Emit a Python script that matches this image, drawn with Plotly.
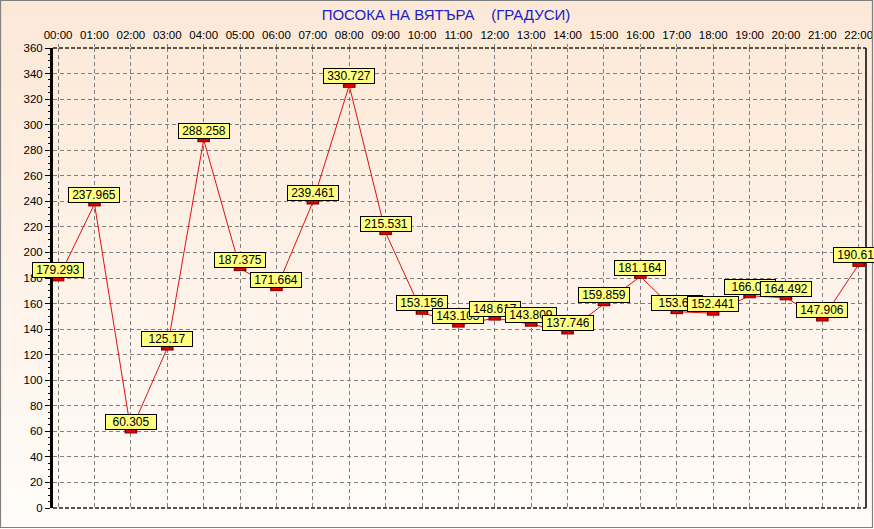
import plotly.graph_objects as go

hours = ["00:00", "01:00", "02:00", "03:00", "04:00", "05:00", "06:00", "07:00",
         "08:00", "09:00", "10:00", "11:00", "12:00", "13:00", "14:00", "15:00",
         "16:00", "17:00", "18:00", "19:00", "20:00", "21:00", "22:00"]
direction = [179.293, 237.965, 60.305, 125.17, 288.258, 187.375, 171.664, 239.461,
             330.727, 215.531, 153.156, 143.103, 148.617, 143.809, 137.746, 159.859,
             181.164, 153.66, 152.441, 166.09, 164.492, 147.906, 190.617]
y_ticks = list(range(0, 361, 20))
title_text = "ПОСОКА НА ВЯТЪРА\u00a0\u00a0\u00a0\u00a0(ГРАДУСИ)"

W, H = 874, 529
L, R, T, B = 53, 8, 48, 21
pw, ph = W - L - R, H - T - B

def px_x(x):
    return (x - L) / pw

def px_y(y):
    return (H - B - y) / ph

fig = go.Figure()

# line
fig.add_trace(go.Scatter(x=hours, y=direction, mode="lines",
                         line=dict(color="#E01010", width=1), hoverinfo="skip"))
# marker rectangles (border + fill)
fig.add_trace(go.Scatter(x=hours, y=direction, mode="markers",
                         marker=dict(symbol="line-ew", size=9,
                                     line=dict(color="#800000", width=5))))
fig.add_trace(go.Scatter(x=hours, y=direction, mode="markers",
                         marker=dict(symbol="line-ew", size=7,
                                     line=dict(color="#E00000", width=3))))

shapes = []
# background gradient
n = 40
top = (252, 232, 214)
bot = (255, 252, 249)
for i in range(n):
    f = i / (n - 1)
    c = tuple(round(top[k] + (bot[k] - top[k]) * f) for k in range(3))
    y0 = i * H / n
    y1 = (i + 1) * H / n + 1
    shapes.append(dict(type="rect", xref="paper", yref="paper",
                       x0=px_x(0), x1=px_x(W), y0=px_y(y1), y1=px_y(y0),
                       fillcolor="rgb(%d,%d,%d)" % c, line=dict(width=0),
                       layer="below"))
# plot borders
shapes.append(dict(type="line", xref="paper", yref="paper", x0=1, x1=1, y0=0, y1=1,
                   line=dict(color="black", width=1.5)))
shapes.append(dict(type="line", xref="paper", yref="paper", x0=0, x1=1, y0=1, y1=1,
                   line=dict(color="#202020", width=1.5, dash="4px,2px")))
shapes.append(dict(type="line", xref="paper", yref="paper", x0=0, x1=1, y0=0, y1=0,
                   line=dict(color="#202020", width=1.5, dash="4px,2px")))
# outer grey frame
shapes.append(dict(type="rect", xref="paper", yref="paper",
                   x0=px_x(0.5), x1=px_x(W - 1.5), y0=px_y(H - 1.5), y1=px_y(0.5),
                   line=dict(color="#808080", width=1.2)))

annotations = []
for h, v in zip(hours, direction):
    annotations.append(dict(x=h, y=v, text=("%g" % v), showarrow=False,
                            yanchor="bottom", xanchor="center", yshift=1,
                            bgcolor="#FFFF80", bordercolor="black", borderwidth=1,
                            borderpad=1, width=48, height=12,
                            font=dict(family="Liberation Sans, Arial", size=12,
                                      color="black")))

fig.update_layout(
    width=W, height=H,
    margin=dict(l=L, r=R, t=T, b=B, pad=0),
    paper_bgcolor="rgb(252,232,214)",
    plot_bgcolor="rgba(0,0,0,0)",
    showlegend=False,
    shapes=shapes,
    annotations=annotations,
    title=dict(text=title_text, x=446 / W, xanchor="center", y=1 - 15 / H,
               yanchor="middle",
               font=dict(family="Liberation Sans, Arial", size=15, color="#2020C8")),
    font=dict(family="Liberation Sans, Arial", size=11, color="black"),
    xaxis=dict(type="category", side="top", range=[-0.14, 22.2],
               showgrid=True, gridcolor="#808080", gridwidth=1, griddash="4px,3px",
               ticks="outside", ticklen=3, tickcolor="#808080",
               tickfont=dict(size=11.5), zeroline=False, showline=False,
               fixedrange=True, automargin=False),
    yaxis=dict(range=[0, 360], tickvals=y_ticks, showgrid=True,
               gridcolor="#808080", gridwidth=1, griddash="4px,3px",
               ticks="outside", ticklen=5, tickcolor="black", tickwidth=1,
               minor=dict(dtick=5, ticks="outside", ticklen=2, tickcolor="black",
                          showgrid=False),
               showline=True, linecolor="black", linewidth=3,
               zeroline=False, tickfont=dict(size=11.5), fixedrange=True,
               automargin=False),
)

fig.write_html("out.html", config={"displayModeBar": False},
               post_script="document.body.style.margin='0';document.body.style.overflow='hidden';")
